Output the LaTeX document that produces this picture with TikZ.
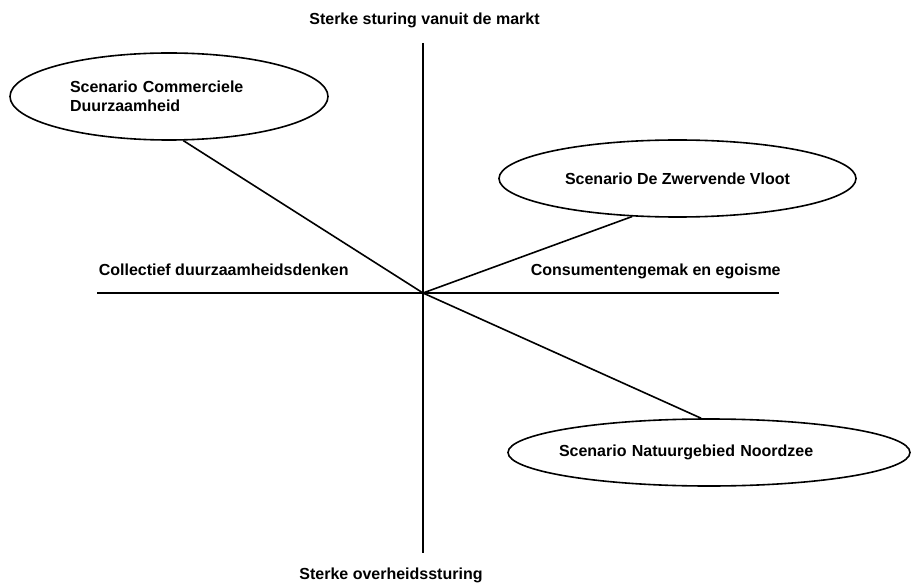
\documentclass[tikz,border=0pt]{standalone}
\usepackage{fontspec}
\setmainfont{Liberation Sans}
\usetikzlibrary{shapes.geometric}

\begin{document}
\begin{tikzpicture}[x=1pt, y=-1pt, line width=1.6pt,
    txt/.style={font=\fontsize{16}{19}\selectfont\bfseries, inner sep=0pt},
    scen/.style={txt, ellipse, draw}]
    \useasboundingbox (0,0) rectangle (912,585);

    % axes
    \coordinate (O) at (423,293);
    \coordinate (T) at (423,43);
    \coordinate (B) at (423,553);
    \coordinate (L) at (97,293);
    \coordinate (R) at (779,293);
    \draw (T) -- (B);
    \draw (L) -- (R);

    \node[txt, anchor=base] (markt) at (424.5,25) {Sterke sturing vanuit de markt};
    \node[txt, anchor=base] (overheid) at (391,579) {Sterke overheidssturing};
    \node[txt, anchor=base west] (collectief) at (98,275) {Collectief duurzaamheidsdenken};
    \node[txt, anchor=base west] (gemak) at (530,276) {Consumentengemak en egoisme};

    % scenarios
    \node[scen, minimum width=318pt, minimum height=87pt, text width=198pt, align=left]
        (CD) at (169,96.5) {Scenario Commerciele\\Duurzaamheid};
    \node[scen, minimum width=357pt, minimum height=77pt]
        (ZV) at (677.5,178.5) {Scenario De Zwervende Vloot};
    \node[scen, minimum width=402pt, minimum height=67pt, text width=300pt, inner xsep=-8pt, align=left]
        (NN) at (709,452.5) {Scenario Natuurgebied Noordzee};

    \draw (CD.-72) -- (O);
    \draw (ZV.-140) -- (O);
    \draw (O) -- (NN.103);
\end{tikzpicture}
\end{document}
